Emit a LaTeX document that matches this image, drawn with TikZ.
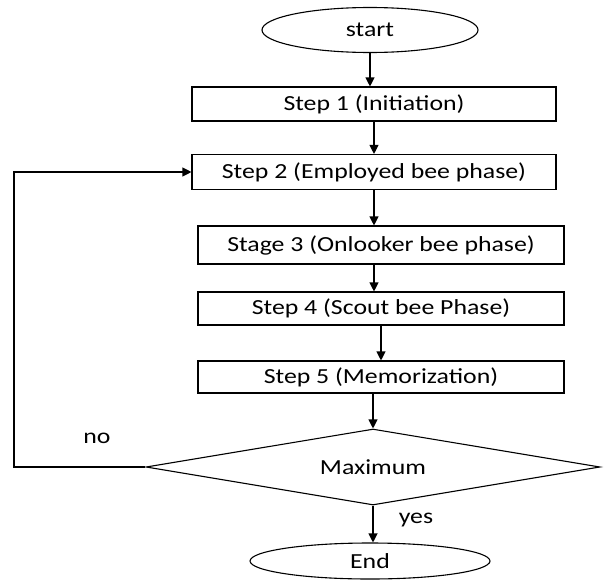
\documentclass[tikz,border=0pt]{standalone}
\usepackage{fontspec}
\setmainfont{Carlito}[FakeStretch=1.2]
\usetikzlibrary{shapes.geometric,arrows.meta}
\tikzset{
  stepbox/.style={draw,rectangle,inner sep=0pt},
  term/.style={draw,ellipse,inner sep=0pt},
  decide/.style={draw,diamond,inner sep=0pt,aspect=5.96},
  flow/.style={-{Triangle[length=9pt,width=9pt]}}
}
\begin{document}
\begin{tikzpicture}[x=1pt,y=-1pt,line width=1.1pt,font=\fontsize{21.5}{25}\selectfont]
  \useasboundingbox (0,0) rectangle (605,581);
  \node [term,minimum width=216pt,minimum height=45pt] (start) at (370,30) {start};
  \node [stepbox,minimum width=364pt,minimum height=34pt] (s1) at (374,104) {Step 1 (Initiation)};
  \node [stepbox,minimum width=364pt,minimum height=35pt] (s2) at (374,172) {Step 2 (Employed bee phase)};
  \node [stepbox,minimum width=366pt,minimum height=38pt] (s3) at (381,245) {Stage 3 (Onlooker bee phase)};
  \node [stepbox,minimum width=366pt,minimum height=33pt] (s4) at (381,308.5) {Step 4 (Scout bee Phase)};
  \node [stepbox,minimum width=366pt,minimum height=32pt] (s5) at (381,377) {Step 5 (Memorization)};
  \node [decide,minimum width=454pt,minimum height=76pt] (dec) at (373,467) {Maximum};
  \node [term,minimum width=240pt,minimum height=36pt] (end) at (370,561) {End};
  \node (no) at (97,438) {no};
  \node (yes) at (416,520) {yes};
  \coordinate (bend) at (14,467);
  \draw [flow] (start.south) -- (start.south |- s1.north);
  \draw [flow] (s1.south) -- (s1.south |- s2.north);
  \draw [flow] (s2.south) -- (s2.south |- s3.north);
  \draw [flow] (s3.south -| s2) -- (s4.north -| s2);
  \draw [flow] (s4.south) -- (s5.north);
  \draw [flow] (s5.south -| dec) -- (dec.north);
  \draw [flow] (dec.south) -- (dec.south |- end.north);
  \draw [flow] (dec.west) -- (bend) |- (s2.west);
\end{tikzpicture}
\end{document}
